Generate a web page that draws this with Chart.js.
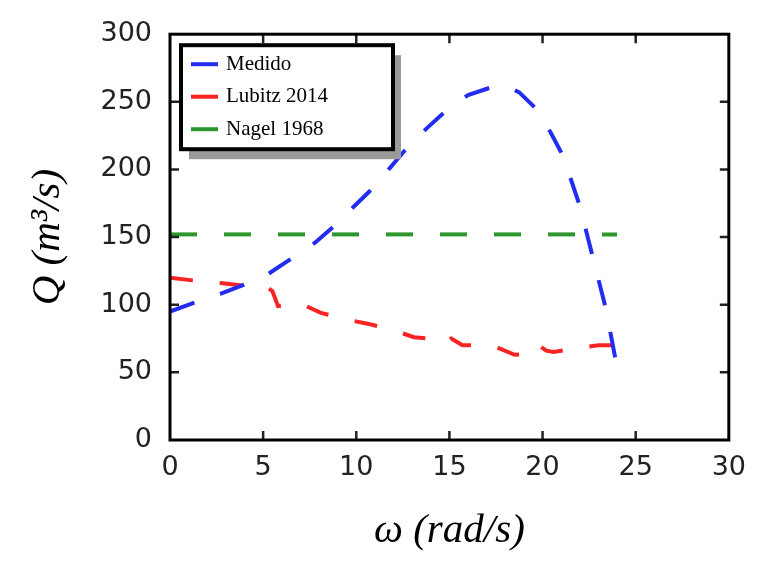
<!DOCTYPE html>
<html>
<head>
<meta charset="utf-8">
<script src="https://cdn.jsdelivr.net/npm/chart.js@4/dist/chart.umd.min.js"></script>
<style>
  html, body { margin: 0; padding: 0; background: #fff; }
  #wrap { width: 758px; height: 561px; }
</style>
</head>
<body>
<div id="wrap"><canvas id="qChart"></canvas></div>
<script>
// Data
const medidoX = [0, 1.2, 2.7, 4.0, 5.3, 6.5, 7.8, 8.8, 9.9, 10.8, 11.8, 12.6, 13.75, 14.7, 16.0, 17.3, 18.0, 18.75, 19.65, 20.45, 21.1, 22.0, 22.7, 23.4, 23.9];
const medidoY = [95, 101, 108, 115, 123, 134, 146, 158, 173, 185, 201, 214, 230, 242, 255, 261, 262, 257, 245, 227, 210, 173, 135, 97, 61];

const lubitzX = [0, 1.2, 2.7, 4.0, 5.2, 5.5, 5.8, 7.0, 8.1, 9.5, 10.6, 11.8, 13.1, 14.6, 14.9, 15.1, 15.7, 17.3, 18.5, 19.5, 19.8, 20.2, 20.6, 21.8, 23.0, 24];
const lubitzY = [120, 118, 116, 114, 113, 110, 99, 101, 94, 89, 86, 82, 76, 74, 72, 75, 70, 70, 63, 64, 70, 66, 65, 68, 70, 70];

const nagelX = [0, 24];
const nagelY = [152, 152];

const xTicks = [0, 5, 10, 15, 20, 25, 30];
const yTicks = [0, 50, 100, 150, 200, 250, 300];

function toPoints(xs, ys) {
    return xs.map(function(x, i) { return { x: x, y: ys[i] }; });
}

// frame, inward ticks and boxed legend, matplotlib style
const framePlugin = {
    id: 'frame',
    afterDraw: function(chart) {
        const ctx = chart.ctx;
        const a = chart.chartArea;
        const xs = chart.scales.x;
        const ys = chart.scales.y;
        ctx.save();
        ctx.strokeStyle = '#222';
        ctx.lineWidth = 2.5;
        xTicks.slice(1, -1).forEach(function(v) {
            const px = xs.getPixelForValue(v);
            ctx.beginPath();
            ctx.moveTo(px, a.bottom); ctx.lineTo(px, a.bottom - 9);
            ctx.moveTo(px, a.top); ctx.lineTo(px, a.top + 9);
            ctx.stroke();
        });
        yTicks.slice(1, -1).forEach(function(v) {
            const py = ys.getPixelForValue(v);
            ctx.beginPath();
            ctx.moveTo(a.left, py); ctx.lineTo(a.left + 9, py);
            ctx.moveTo(a.right, py); ctx.lineTo(a.right - 9, py);
            ctx.stroke();
        });
        ctx.strokeStyle = '#000';
        ctx.lineWidth = 3;
        ctx.strokeRect(a.left, a.top, a.right - a.left, a.bottom - a.top);

        // legend with drop shadow
        const lx = a.left + 11, ly = a.top + 11, lw = 212, lh = 104;
        ctx.fillStyle = '#9a9a9a';
        ctx.fillRect(lx + 8, ly + 10, lw, lh);
        ctx.fillStyle = '#fff';
        ctx.fillRect(lx, ly, lw, lh);
        ctx.lineWidth = 4;
        ctx.strokeStyle = '#000';
        ctx.strokeRect(lx, ly, lw, lh);
        ctx.font = '21px "Liberation Serif", "Times New Roman", serif';
        ctx.textBaseline = 'middle';
        chart.data.datasets.forEach(function(ds, i) {
            const ry = ly + 19 + i * 32.5;
            ctx.strokeStyle = ds.borderColor;
            ctx.lineWidth = 4;
            ctx.beginPath();
            ctx.moveTo(lx + 10, ry); ctx.lineTo(lx + 37, ry);
            ctx.stroke();
            ctx.fillStyle = '#000';
            ctx.fillText(ds.label, lx + 45, ry);
        });
        ctx.restore();
    }
};

new Chart(document.getElementById('qChart').getContext('2d'), {
    type: 'line',
    data: {
        datasets: [{
            label: 'Medido',
            data: toPoints(medidoX, medidoY),
            borderColor: 'rgb(35, 45, 240)',
            borderWidth: 4,
            borderDash: [26, 27],
            pointRadius: 0,
            tension: 0
        }, {
            label: 'Lubitz 2014',
            data: toPoints(lubitzX, lubitzY),
            borderColor: 'rgb(250, 35, 35)',
            borderWidth: 4,
            borderDash: [23, 27],
            pointRadius: 0,
            tension: 0
        }, {
            label: 'Nagel 1968',
            data: toPoints(nagelX, nagelY),
            borderColor: 'rgb(45, 150, 45)',
            borderWidth: 4,
            borderDash: [27, 27],
            pointRadius: 0,
            tension: 0
        }]
    },
    options: {
        responsive: true,
        maintainAspectRatio: false,
        animation: false,
        layout: {
            padding: { top: 23, right: 23, left: 0, bottom: 0 }
        },
        plugins: {
            legend: { display: false },
            tooltip: { enabled: false }
        },
        scales: {
            x: {
                type: 'linear',
                min: 0,
                max: 30,
                afterFit: function(scale) { scale.height = 121; },
                afterBuildTicks: function(scale) {
                    scale.ticks = xTicks.map(function(v) { return { value: v }; });
                },
                grid: { display: false, drawTicks: false },
                border: { display: false },
                ticks: {
                    padding: 12,
                    color: '#222',
                    font: { family: '"DejaVu Sans", sans-serif', size: 27 }
                },
                title: {
                    display: true,
                    text: 'ω (rad/s)',
                    color: '#000',
                    padding: { bottom: 5 },
                    font: { family: '"Liberation Serif", "Times New Roman", serif', size: 41, style: 'italic' }
                }
            },
            y: {
                min: 0,
                max: 300,
                afterFit: function(scale) { scale.width = 170; },
                afterBuildTicks: function(scale) {
                    scale.ticks = yTicks.map(function(v) { return { value: v }; });
                },
                grid: { display: false, drawTicks: false },
                border: { display: false },
                ticks: {
                    padding: 18,
                    color: '#222',
                    font: { family: '"DejaVu Sans", sans-serif', size: 27 }
                },
                title: {
                    display: true,
                    text: 'Q (m³/s)',
                    color: '#000',
                    padding: { top: 24 },
                    font: { family: '"Liberation Serif", "Times New Roman", serif', size: 41, style: 'italic' }
                }
            }
        }
    },
    plugins: [framePlugin]
});
</script>
</body>
</html>
